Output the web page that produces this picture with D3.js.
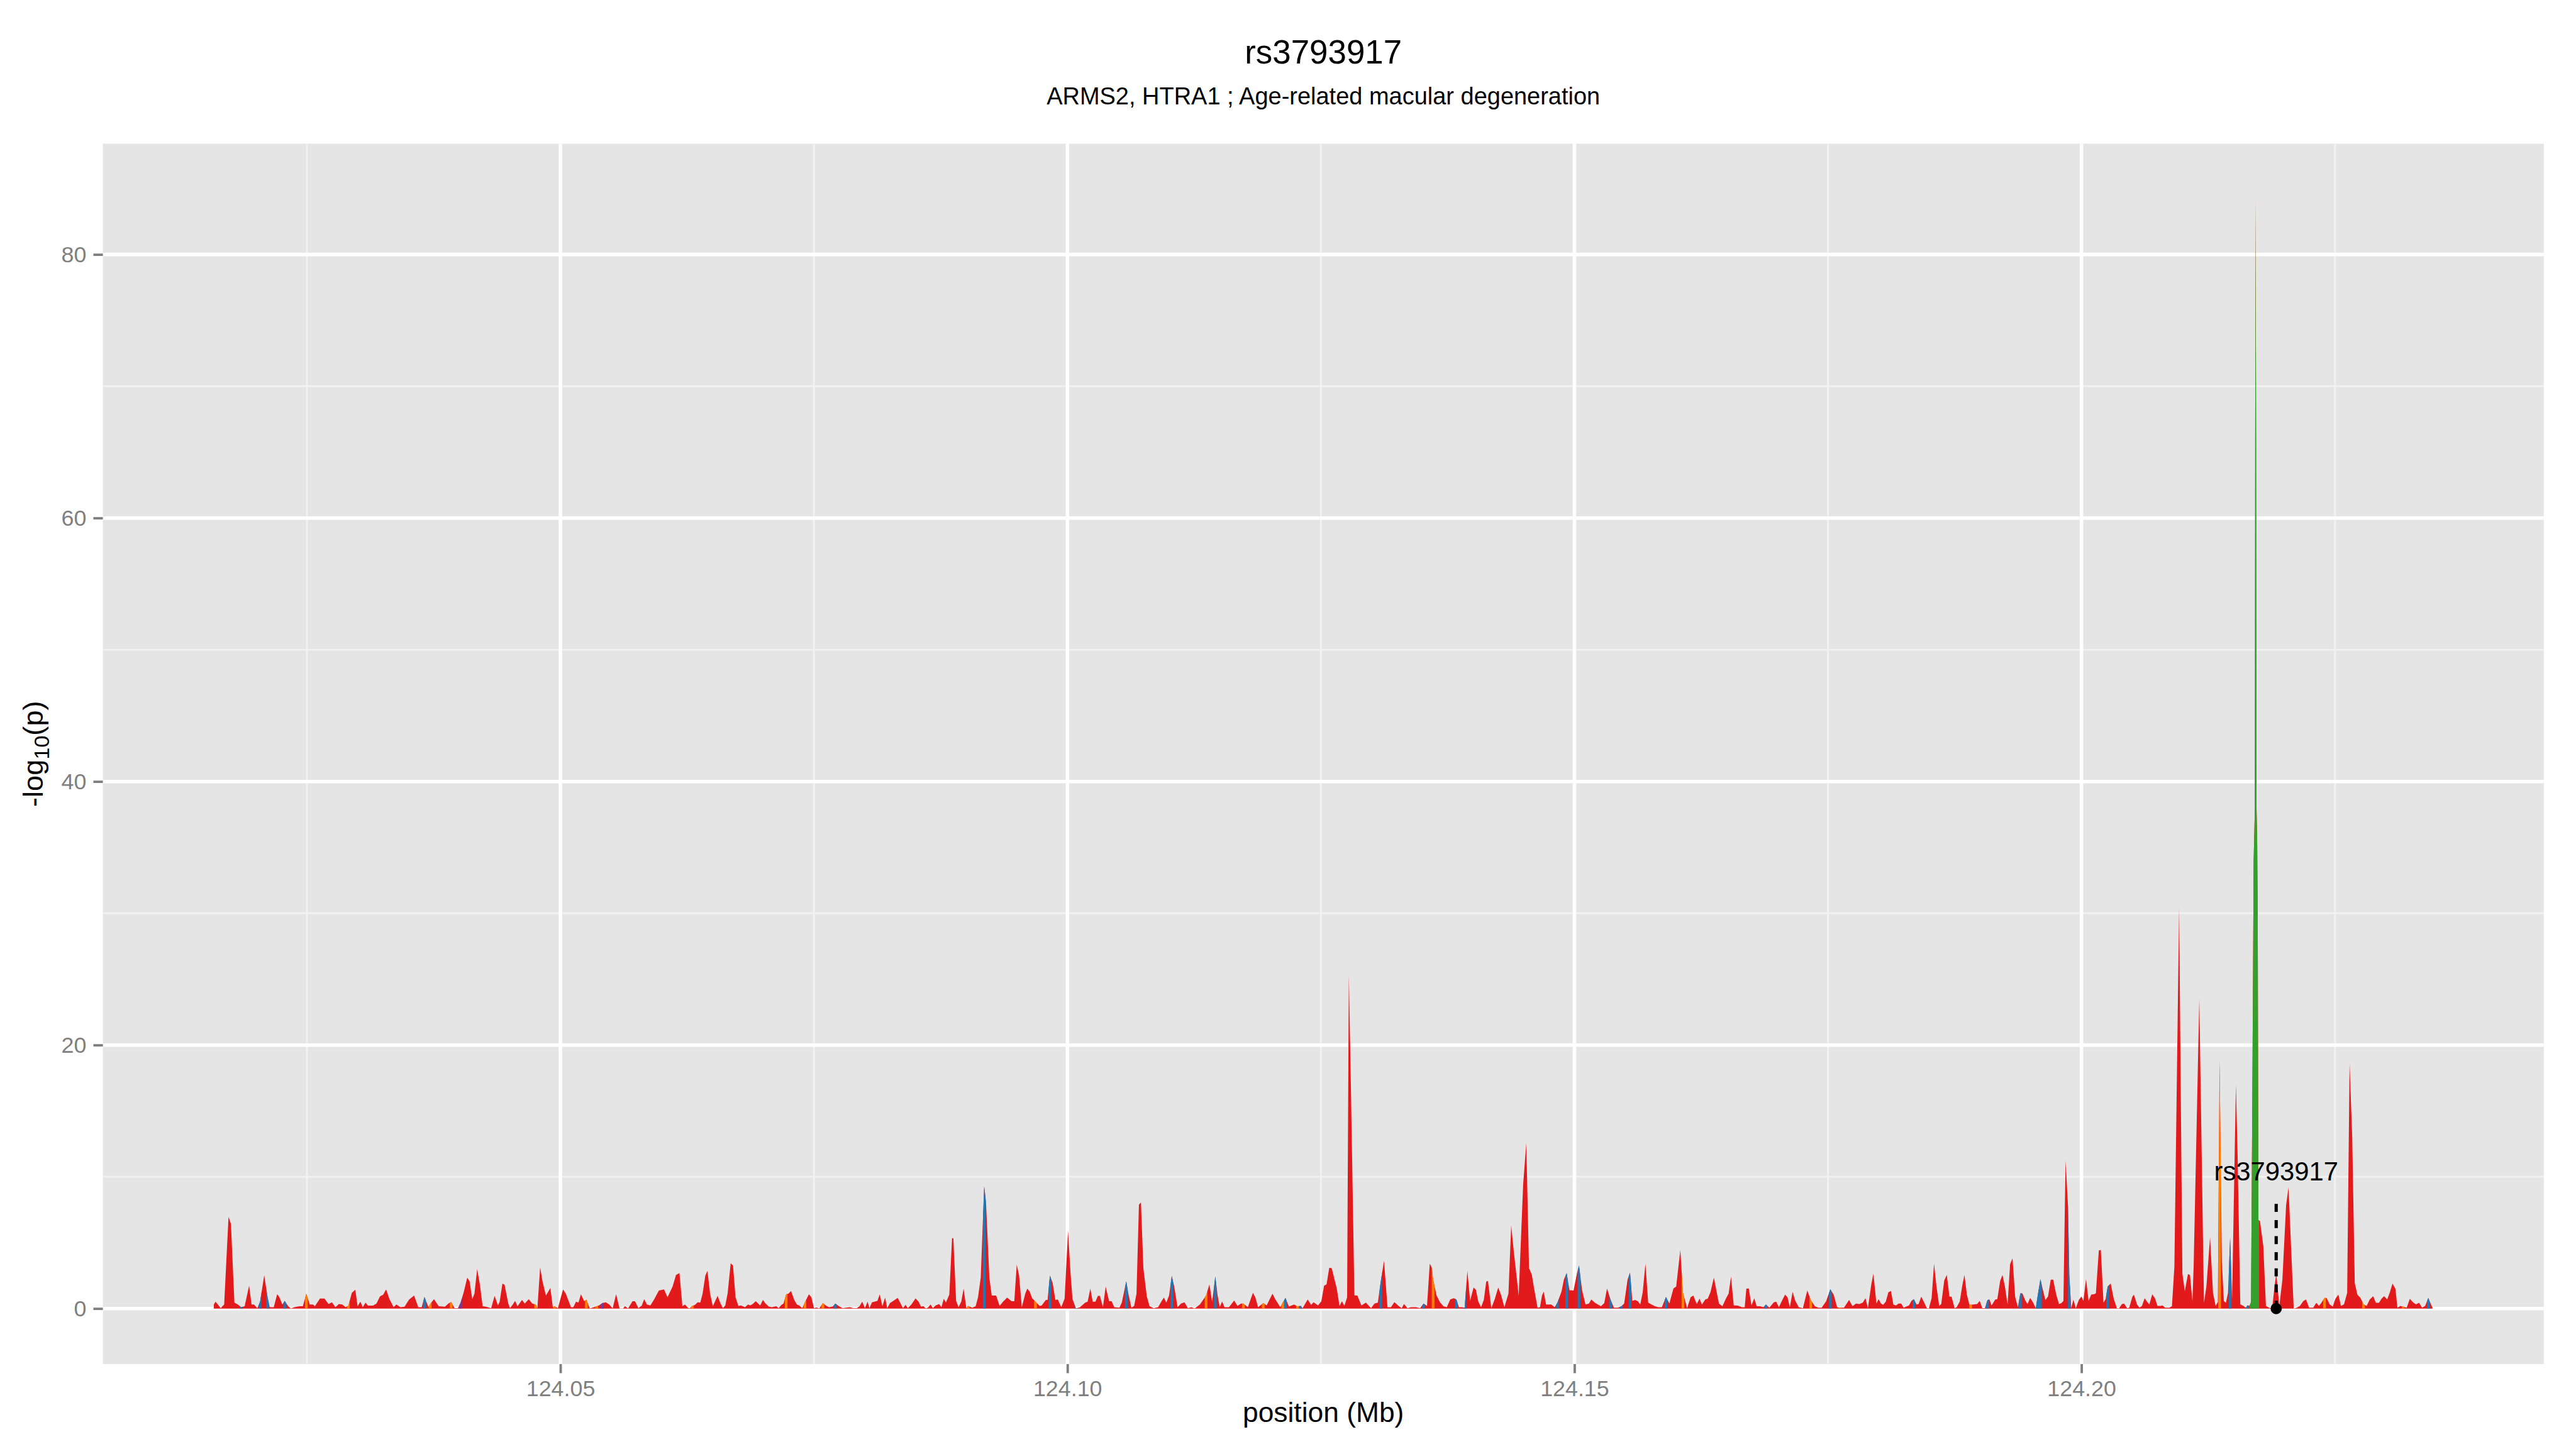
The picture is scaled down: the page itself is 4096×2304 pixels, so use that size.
<!DOCTYPE html>
<html>
<head>
<meta charset="utf-8">
<script src="https://cdn.jsdelivr.net/npm/d3@7"></script>
<style>
  body { margin: 0; background: #fff; }
  text { font-family: "Liberation Sans", Arial, Helvetica, sans-serif; }
</style>
</head>
<body>
<div id="chart"></div>
<script>
// ---- chart values ----
const titleText = "rs3793917";
const subtitleText = "ARMS2, HTRA1 ; Age-related macular degeneration";
const xTitle = "position (Mb)";

const regionStartMb = 124.0;   // snp positions below are kb past this point
const xTicks = [124.05, 124.10, 124.15, 124.20];
const yTicks = [0, 20, 40, 60, 80];

// LD bins, lowest first
const ldBins = ["0-0.2", "0.2-0.4", "0.4-0.6", "0.6-0.8", "0.8-1"];
const ldColours = ["#E31A1C", "#1F78B4", "#FF7F00", "#6A3D9A", "#33A02C"];

// [kb, -log10(p)] for every snp
const profile = [
  [15.82,0.31],[15.99,0.52],[16.50,0.04],[16.67,0.18],[16.84,0.31],[17.27,6.97],[17.51,6.42],[17.85,0.45],
  [18.19,0.31],[18.52,0.10],[18.86,0.18],[19.30,1.74],[19.54,0.31],[19.77,0.31],[20.11,0.04],[20.38,0.52],
  [20.79,2.53],[21.12,0.86],[21.33,0.11],[21.73,0.11],[22.07,1.10],[22.27,0.88],[22.58,0.31],[22.81,0.58],
  [23.15,0.18],[23.42,0.01],[23.76,0.11],[24.26,0.18],[24.60,0.18],[24.94,1.13],[25.28,0.31],[25.61,0.31],
  [25.78,0.18],[26.29,0.76],[26.73,0.76],[27.13,0.34],[27.47,0.48],[27.81,0.11],[28.15,0.34],[28.48,0.31],
  [28.82,0.11],[29.09,0.22],[29.43,1.19],[29.77,1.43],[30.00,0.18],[30.27,0.52],[30.51,0.11],[30.78,0.45],
  [31.02,0.22],[31.52,0.22],[31.86,0.38],[32.20,0.92],[32.53,1.06],[32.81,1.45],[33.14,0.72],[33.55,0.11],
  [33.82,0.31],[34.22,0.11],[34.63,0.14],[35.07,0.68],[35.57,0.99],[35.98,0.11],[36.32,0.11],[36.59,0.88],
  [36.99,0.11],[37.16,0.35],[37.53,0.72],[38.00,0.18],[38.61,0.14],[38.95,0.38],[39.22,0.50],[39.56,0.04],
  [39.89,0.04],[40.16,0.45],[40.47,1.26],[40.81,2.35],[41.04,2.08],[41.31,0.72],[41.52,1.13],[41.79,3.00],
  [42.06,1.81],[42.33,0.18],[42.66,0.14],[43.17,0.04],[43.51,0.96],[43.84,0.24],[44.01,0.52],[44.28,1.90],
  [44.49,1.81],[44.86,0.38],[45.03,0.04],[45.30,0.31],[45.53,0.58],[45.77,0.18],[46.21,0.65],[46.48,0.38],
  [46.88,0.72],[47.22,0.38],[47.56,0.31],[47.73,0.04],[48.00,3.14],[48.23,2.08],[48.57,0.99],[49.01,1.56],
  [49.25,0.11],[49.42,0.18],[49.75,0.04],[50.26,1.45],[50.53,1.13],[51.04,0.11],[51.27,0.11],[51.54,0.52],
  [51.78,0.45],[52.02,1.09],[52.35,0.56],[52.56,0.68],[52.89,0.01],[53.30,0.11],[53.57,0.18],[53.80,0.24],
  [54.14,0.41],[54.48,0.48],[54.82,0.31],[55.15,0.01],[55.49,1.10],[55.83,0.01],[56.17,0.01],[56.37,0.18],
  [56.67,0.01],[57.11,0.56],[57.35,0.56],[57.69,0.04],[58.02,0.22],[58.26,0.72],[58.53,0.31],[58.87,0.24],
  [59.21,0.65],[59.71,1.37],[60.22,1.45],[60.56,0.86],[61.06,1.67],[61.40,2.55],[61.74,2.69],[62.03,0.18],
  [62.29,0.31],[62.56,0.07],[62.73,0.01],[62.99,0.20],[63.26,0.27],[63.53,0.48],[63.79,0.45],[64.02,1.13],
  [64.29,2.51],[64.50,2.86],[64.76,1.13],[65.03,0.18],[65.50,0.96],[65.79,0.38],[66.03,0.04],[66.26,0.24],
  [66.49,1.15],[66.79,3.44],[67.02,3.27],[67.27,0.86],[67.55,0.20],[67.80,0.24],[68.20,0.11],[68.50,0.31],
  [68.73,0.24],[68.96,0.34],[69.26,0.56],[69.70,0.24],[69.97,0.65],[70.23,0.38],[70.55,0.15],[70.85,0.11],
  [71.29,0.18],[71.52,0.04],[71.79,0.27],[72.00,0.38],[72.26,1.09],[72.49,1.13],[72.74,1.33],[73.06,0.65],
  [73.32,0.31],[73.55,0.24],[73.85,0.04],[74.11,0.48],[74.50,1.09],[74.75,0.86],[75.00,0.04],[75.26,0.08],
  [75.53,0.01],[75.88,0.41],[76.23,0.20],[76.50,0.11],[76.85,0.15],[77.11,0.38],[77.47,0.18],[77.82,0.04],
  [78.53,0.10],[78.88,0.03],[79.23,0.03],[79.50,0.18],[79.76,0.52],[80.03,0.04],[80.29,0.52],[80.47,0.04],
  [80.73,0.48],[81.26,0.58],[81.49,1.09],[81.75,0.18],[82.02,0.83],[82.23,0.04],[82.50,0.42],[83.26,0.81],
  [83.78,0.04],[84.03,0.28],[84.26,0.04],[84.61,0.31],[85.02,0.77],[85.32,0.52],[85.55,0.15],[85.80,0.18],
  [86.03,0.01],[86.25,0.08],[86.50,0.31],[86.73,0.04],[87.00,0.24],[87.35,0.34],[87.57,0.11],[87.81,0.75],
  [88.01,0.45],[88.35,1.06],[88.62,5.34],[88.75,5.34],[89.02,0.58],[89.26,0.11],[89.53,0.52],[89.76,1.51],
  [90.03,0.04],[90.20,0.20],[90.61,0.07],[90.95,0.18],[91.18,0.86],[91.45,2.35],[91.79,9.27],[91.96,8.19],
  [92.30,2.35],[92.53,0.99],[92.97,0.99],[93.31,0.20],[93.65,0.52],[94.05,0.83],[94.49,0.56],[94.76,0.56],
  [95.00,3.34],[95.23,2.51],[95.50,0.11],[95.84,1.13],[96.04,1.51],[96.28,1.29],[96.52,0.79],[96.85,0.52],
  [97.26,0.20],[97.46,0.24],[97.87,0.65],[98.04,0.65],[98.27,2.51],[98.54,1.94],[98.81,0.65],[99.05,0.69],
  [99.39,0.11],[99.72,0.75],[100.06,5.91],[100.30,2.75],[100.50,0.72],[100.84,0.01],[101.24,0.11],[101.75,0.45],
  [101.99,0.52],[102.26,1.51],[102.49,0.52],[102.76,0.52],[103.00,0.96],[103.20,0.96],[103.50,0.11],[103.77,1.67],
  [104.11,0.56],[104.35,0.56],[104.62,0.11],[105.13,0.07],[105.36,0.45],[105.80,2.08],[106.04,0.99],[106.31,0.07],
  [106.58,0.20],[106.81,1.13],[107.05,7.88],[107.25,8.05],[107.49,3.04],[107.83,0.92],[108.10,0.18],[108.50,0.04],
  [108.94,0.11],[109.28,0.56],[109.51,0.83],[109.75,0.45],[110.02,0.99],[110.29,2.48],[110.53,1.67],[110.86,0.11],
  [111.20,0.38],[111.54,0.48],[111.88,0.04],[112.22,0.11],[112.55,0.01],[113.06,0.31],[113.67,0.99],[114.00,1.83],
  [114.27,0.52],[114.58,2.44],[114.81,0.99],[115.02,0.11],[115.25,0.54],[115.49,0.11],[115.93,0.11],[116.44,0.61],
  [116.77,0.20],[117.11,0.38],[117.35,0.38],[117.79,0.11],[118.29,1.19],[118.53,0.86],[118.80,0.11],[119.31,0.42],
  [119.64,0.24],[120.22,1.13],[120.49,0.72],[120.99,0.11],[121.23,0.45],[121.50,0.81],[121.84,0.15],[122.34,0.31],
  [122.68,0.18],[123.02,0.20],[123.19,0.04],[123.69,0.69],[124.03,0.28],[124.27,0.48],[124.71,0.24],[125.04,0.56],
  [125.31,1.74],[125.55,1.83],[125.82,3.10],[126.06,3.06],[126.56,1.53],[126.83,0.20],[127.07,0.56],[127.31,0.20],
  [127.58,0.86],[127.75,25.3],[127.95,17.0],[128.30,1.00],[128.59,0.99],[128.99,0.24],[129.43,0.45],[129.94,0.04],
  [130.28,0.38],[130.61,0.45],[130.89,2.01],[131.22,3.64],[131.56,0.11],[131.90,0.11],[132.24,0.49],[132.69,0.18],
  [132.96,0.04],[133.19,0.34],[133.53,0.04],[133.87,0.11],[134.38,0.11],[134.78,0.04],[135.12,0.38],[135.46,0.20],
  [135.73,3.41],[135.93,3.10],[136.06,2.21],[136.40,0.99],[136.74,0.48],[137.08,0.18],[137.41,0.11],[137.75,0.69],
  [138.09,0.79],[138.36,0.69],[138.60,0.11],[138.93,0.11],[139.17,0.07],[139.44,2.86],[139.71,0.58],[140.05,1.60],
  [140.28,1.43],[140.52,0.52],[140.79,0.11],[141.06,0.65],[141.30,2.05],[141.47,2.10],[141.80,0.04],[142.14,0.72],
  [142.48,1.60],[142.75,1.06],[143.09,0.11],[143.49,1.13],[143.76,6.31],[144.03,4.25],[144.50,0.99],[144.94,9.41],
  [145.25,12.56],[145.52,3.06],[145.79,2.59],[146.02,1.53],[146.36,0.07],[146.60,0.11],[146.80,0.99],[146.97,1.29],
  [147.20,0.31],[147.71,0.31],[148.05,0.11],[148.32,0.45],[148.72,1.29],[148.96,2.21],[149.23,2.69],[149.50,1.40],
  [149.91,1.37],[150.24,2.65],[150.45,3.27],[150.75,1.40],[151.09,0.31],[151.43,0.38],[151.66,0.69],[152.00,0.45],
  [152.61,0.18],[152.94,0.41],[153.21,1.53],[153.55,0.69],[153.89,0.07],[154.29,0.07],[154.63,0.18],[154.90,0.38],
  [155.24,2.21],[155.48,2.73],[155.71,0.58],[155.98,0.65],[156.25,0.56],[156.49,0.31],[156.73,1.24],[157.00,3.41],
  [157.27,0.45],[157.60,0.31],[157.94,0.18],[158.28,0.11],[158.62,0.11],[159.02,0.88],[159.36,0.38],[159.76,1.53],
  [160.03,1.67],[160.44,4.45],[160.70,1.20],[161.11,0.04],[161.45,0.86],[161.72,0.99],[162.06,0.34],[162.33,0.75],
  [162.57,0.31],[162.90,0.69],[163.14,0.75],[163.41,1.24],[163.75,2.35],[164.02,1.27],[164.25,0.38],[164.59,0.18],
  [164.93,0.75],[165.20,1.13],[165.44,2.42],[165.71,0.24],[166.11,0.22],[166.52,0.11],[166.79,0.11],[166.95,1.51],
  [167.19,1.53],[167.46,0.24],[167.73,0.79],[167.97,0.18],[168.31,0.18],[168.64,0.11],[168.88,0.31],[169.22,0.07],
  [169.66,0.48],[169.89,0.52],[170.16,0.11],[170.50,0.65],[170.77,1.06],[171.01,0.86],[171.24,0.11],[171.51,1.26],
  [171.78,0.58],[172.12,0.11],[172.53,0.04],[172.96,1.37],[173.30,0.65],[173.71,0.18],[174.05,0.07],[174.38,0.07],
  [174.82,0.56],[175.23,1.47],[175.56,1.06],[175.90,0.11],[176.17,0.07],[176.58,0.07],[177.08,0.65],[177.42,0.18],
  [177.76,0.38],[178.10,0.34],[178.43,0.45],[178.70,0.79],[178.94,0.04],[179.28,1.87],[179.48,2.65],[179.78,0.38],
  [179.99,0.72],[180.23,0.38],[180.44,0.28],[180.70,0.52],[180.96,1.24],[181.21,1.33],[181.45,0.31],[181.71,0.24],
  [181.96,0.38],[182.22,0.38],[182.46,0.07],[182.72,0.15],[182.99,0.24],[183.23,0.58],[183.47,0.72],[183.74,0.31],
  [183.94,0.34],[184.20,0.90],[184.49,0.45],[184.75,0.04],[184.95,0.01],[185.22,0.79],[185.46,3.41],[185.70,1.68],
  [185.97,0.20],[186.17,0.34],[186.47,2.15],[186.72,2.55],[186.98,0.90],[187.18,0.90],[187.49,0.04],[187.69,0.11],
  [187.99,0.52],[188.26,1.81],[188.46,2.55],[188.70,1.06],[188.94,0.31],[189.07,0.28],[189.31,0.31],[189.71,0.34],
  [189.96,0.58],[190.22,0.04],[190.48,0.04],[190.73,0.65],[190.93,0.69],[191.13,0.24],[191.50,0.69],[191.70,0.72],
  [191.98,2.10],[192.21,2.55],[192.45,1.68],[192.71,0.31],[192.96,3.37],[193.20,3.82],[193.46,0.88],[193.73,0.11],
  [193.97,1.15],[194.17,1.15],[194.48,0.58],[194.68,0.34],[194.94,0.81],[195.23,0.45],[195.49,0.04],[195.69,1.02],
  [195.95,2.24],[196.20,1.39],[196.44,0.65],[196.70,0.92],[196.97,2.19],[197.21,2.19],[197.51,1.06],[197.78,0.34],
  [198.02,0.42],[198.22,0.58],[198.43,11.24],[198.67,7.78],[198.80,2.50],[198.99,0.04],[199.20,0.68],[199.44,0.04],
  [199.74,0.65],[199.99,0.92],[200.19,0.58],[200.45,2.24],[200.70,0.58],[200.96,1.06],[201.26,1.10],[201.42,1.15],
  [201.71,4.41],[201.91,4.45],[202.17,0.45],[202.38,0.72],[202.58,1.67],[202.88,1.91],[203.19,0.72],[203.49,0.04],
  [203.69,0.01],[203.99,0.34],[204.20,0.38],[204.50,0.04],[204.71,0.07],[205.01,0.88],[205.17,1.06],[205.48,0.31],
  [205.72,0.07],[205.96,0.20],[206.23,0.79],[206.53,0.45],[206.69,0.31],[206.98,1.09],[207.24,0.79],[207.50,0.20],
  [207.79,0.20],[207.99,0.24],[208.25,0.07],[208.66,0.07],[208.92,0.18],[209.16,3.16],[209.63,30.4],[209.95,2.67],
  [210.19,1.31],[210.50,2.62],[210.70,2.54],[210.94,0.57],[211.06,3.16],[211.62,23.5],[212.08,0.44],[212.32,1.68],
  [212.68,5.43],[212.97,1.19],[213.23,0.20],[213.45,0.50],[213.62,18.8],[213.84,3.60],[214.04,0.57],[214.24,0.44],
  [214.45,1.19],[214.66,5.38],[214.85,0.69],[215.23,17.0],[215.40,11.5],[215.66,0.32],[215.97,0.20],[216.21,0.07],
  [216.37,0.25],[216.57,0.20],[216.72,0.50],[216.85,16.0],[216.98,34.0],[217.10,38.0],[217.13,66.0],[217.17,84.2],
  [217.22,66.0],[217.26,38.0],[217.32,36.0],[217.38,30.0],[217.45,6.70],[217.60,6.66],[217.93,4.76],[218.19,0.20],
  [218.50,0.07],[218.80,0.00],[219.04,1.68],[219.21,2.67],[219.51,0.20],[219.81,2.17],[220.18,7.85],[220.42,9.21],
  [220.73,3.60],[220.93,0.00],[221.23,0.07],[221.54,0.20],[221.88,0.57],[222.14,0.69],[222.45,0.07],[222.85,0.07],
  [223.16,0.44],[223.42,0.20],[223.66,0.44],[223.97,0.81],[224.17,0.81],[224.47,0.32],[224.78,0.15],[225.04,0.74],
  [225.33,1.06],[225.59,0.20],[225.89,0.32],[226.20,1.19],[226.44,18.6],[226.70,13.0],[226.95,1.93],[227.21,1.06],
  [227.51,0.81],[227.82,0.32],[228.12,0.20],[228.43,0.69],[228.77,0.94],[229.03,0.44],[229.34,0.44],[229.58,0.74],
  [229.84,0.94],[230.15,0.69],[230.39,1.19],[230.67,1.90],[230.96,1.50],[231.16,0.07],[231.46,0.20],[231.72,0.15],
  [232.07,0.07],[232.38,0.74],[232.68,0.49],[232.98,0.32],[233.29,0.44],[233.59,0.07],[233.89,0.20],[234.20,0.81],
  [234.40,0.44],[234.65,0.00]
];

// snps outside the lowest LD bin: [kb, bin index]
const ldSnps = [
  [18.52,1],[20.38,1],[21.12,1],[22.81,1],[36.59,1],[77.11,1],[91.79,1],[98.27,1],[100.84,1],[105.80,1],
  [110.29,1],[114.58,1],[121.50,1],[123.02,1],[130.89,1],[135.12,1],[138.36,1],[139.17,1],[148.32,1],
  [149.23,1],[150.45,1],[153.55,1],[154.63,1],[155.48,1],[159.02,1],[168.88,1],[175.23,1],[183.47,1],
  [190.73,1],[193.97,1],[195.69,1],[195.95,1],[198.80,1],[202.58,1],[214.66,1],[216.37,1],[234.20,1],
  [24.94,2],[29.09,2],[37.16,2],[39.22,2],[47.56,2],[49.42,2],[52.56,2],[53.57,2],[62.99,2],[72.26,2],
  [74.11,2],[75.88,2],[90.20,2],[96.85,2],[113.67,2],[117.35,2],[119.31,2],[121.23,2],[122.68,2],
  [136.06,2],[160.70,2],[173.30,2],[176.17,2],[189.07,2],[213.62,2],[223.97,2],[227.82,2],[231.72,2],
  [40.16,3],[54.14,3],
  [216.72,4],[216.85,4],[216.98,4],[217.10,4],[217.13,4],[217.17,4],[217.22,4],[217.26,4],[217.32,4],[217.38,4]
];

// the labelled snp
const leadSnp = "rs3793917";
const leadKb = 219.2;
const leadLabelP = 10.45;
const leadLineP = 8.4;

// ---- layout (reference pixel space, scaled down by the viewBox) ----
const W = 4800, H = 2700;
const panel = { left: 191.7, right: 4740, top: 267.7, bottom: 2541.7 };
const fontFam = '"Liberation Sans", Arial, Helvetica, sans-serif';

const svg = d3.select("#chart")
  .append("svg")
  .attr("width", 4096)
  .attr("height", 2304)
  .attr("viewBox", `0 0 ${W} ${H}`)
  .style("display", "block");

svg.append("rect").attr("width", W).attr("height", H).attr("fill", "#fff");

const toMb = kb => regionStartMb + kb / 1000;
const pts = profile.map(d => ({ mb: toMb(d[0]), p: d[1] }));

// ggplot style 5% expansion on both axes
const xExt = d3.extent(pts, d => d.mb);
const yExt = [0, d3.max(pts, d => d.p)];
const xPad = (xExt[1] - xExt[0]) * 0.05;
const yPad = (yExt[1] - yExt[0]) * 0.05;

const x = d3.scaleLinear()
  .domain([xExt[0] - xPad, xExt[1] + xPad])
  .range([panel.left, panel.right]);
const y = d3.scaleLinear()
  .domain([yExt[0] - yPad, yExt[1] + yPad])
  .range([panel.bottom, panel.top]);

// panel background
svg.append("rect")
  .attr("x", panel.left).attr("y", panel.top)
  .attr("width", panel.right - panel.left)
  .attr("height", panel.bottom - panel.top)
  .attr("fill", "#E5E5E5");

// grid lines
const grid = svg.append("g");
const xMinor = xTicks.map(t => t - 0.025).concat([xTicks[xTicks.length - 1] + 0.025])
  .filter(t => t > x.domain()[0] && t < x.domain()[1]);
const yMinor = yTicks.map(t => t + 10).filter(t => t < y.domain()[1]);

grid.selectAll(".xminor").data(xMinor).join("line")
  .attr("x1", d => x(d)).attr("x2", d => x(d))
  .attr("y1", panel.top).attr("y2", panel.bottom)
  .attr("stroke", "#F2F2F2").attr("stroke-width", 3.3);
grid.selectAll(".yminor").data(yMinor).join("line")
  .attr("y1", d => y(d)).attr("y2", d => y(d))
  .attr("x1", panel.left).attr("x2", panel.right)
  .attr("stroke", "#F2F2F2").attr("stroke-width", 3.3);
grid.selectAll(".xmajor").data(xTicks).join("line")
  .attr("x1", d => x(d)).attr("x2", d => x(d))
  .attr("y1", panel.top).attr("y2", panel.bottom)
  .attr("stroke", "#fff").attr("stroke-width", 6.5);
grid.selectAll(".ymajor").data(yTicks).join("line")
  .attr("y1", d => y(d)).attr("y2", d => y(d))
  .attr("x1", panel.left).attr("x2", panel.right)
  .attr("stroke", "#fff").attr("stroke-width", 6.5);

// the profile
const plot = svg.append("g");
const area = d3.area()
  .x(d => x(d.mb))
  .y0(y(0))
  .y1(d => y(d.p));

plot.append("path")
  .datum(pts)
  .attr("d", area)
  .attr("fill", ldColours[0]);

// higher LD snps: same profile, coloured in a thin strip round each snp
const defs = svg.append("defs");
const stripHalf = 2.5;
d3.range(1, ldColours.length).forEach(b => {
  const snps = ldSnps.filter(s => s[1] === b);
  if (!snps.length) return;
  const cp = defs.append("clipPath").attr("id", "ld" + b);
  cp.selectAll("rect").data(snps).join("rect")
    .attr("x", s => x(toMb(s[0])) - stripHalf)
    .attr("width", stripHalf * 2)
    .attr("y", panel.top)
    .attr("height", panel.bottom - panel.top);
  plot.append("path")
    .datum(pts)
    .attr("d", area)
    .attr("fill", ldColours[b])
    .attr("clip-path", `url(#ld${b})`);
});

// lead snp marker
const leadX = x(toMb(leadKb));
svg.append("line")
  .attr("x1", leadX).attr("x2", leadX)
  .attr("y1", y(0)).attr("y2", y(leadLineP))
  .attr("stroke", "#000").attr("stroke-width", 6)
  .attr("stroke-dasharray", "15,15");
svg.append("circle")
  .attr("cx", leadX).attr("cy", y(0)).attr("r", 10.5)
  .attr("fill", "#000");
svg.append("text")
  .attr("x", leadX).attr("y", y(leadLabelP))
  .attr("dy", "0.36em")
  .attr("text-anchor", "middle")
  .attr("font-size", 49)
  .attr("fill", "#000")
  .text(leadSnp);

// axes
const xAxis = d3.axisBottom(x)
  .tickValues(xTicks)
  .tickFormat(d3.format(".2f"))
  .tickSize(17)
  .tickPadding(13);
svg.append("g")
  .attr("transform", `translate(0,${panel.bottom})`)
  .call(xAxis)
  .attr("font-size", 42)
  .attr("font-family", fontFam)
  .call(g => g.select(".domain").remove())
  .call(g => g.selectAll("line").attr("stroke", "#7F7F7F").attr("stroke-width", 4.5))
  .call(g => g.selectAll("text").attr("fill", "#7F7F7F"));

const yAxis = d3.axisLeft(y)
  .tickValues(yTicks)
  .tickSize(17.7)
  .tickPadding(13);
svg.append("g")
  .attr("transform", `translate(${panel.left},0)`)
  .call(yAxis)
  .attr("font-size", 42)
  .attr("font-family", fontFam)
  .call(g => g.select(".domain").remove())
  .call(g => g.selectAll("line").attr("stroke", "#7F7F7F").attr("stroke-width", 4.5))
  .call(g => g.selectAll("text").attr("fill", "#7F7F7F"));

// titles
const midX = (panel.left + panel.right) / 2;
svg.append("text")
  .attr("x", midX).attr("y", 118)
  .attr("text-anchor", "middle")
  .attr("font-size", 62)
  .text(titleText);
svg.append("text")
  .attr("x", midX).attr("y", 195)
  .attr("text-anchor", "middle")
  .attr("font-size", 44.5)
  .text(subtitleText);

svg.append("text")
  .attr("x", midX).attr("y", 2650)
  .attr("text-anchor", "middle")
  .attr("font-size", 52)
  .text(xTitle);

const yTitle = svg.append("text")
  .attr("transform", `translate(80,${(panel.top + panel.bottom) / 2}) rotate(-90)`)
  .attr("text-anchor", "middle")
  .attr("font-size", 53);
yTitle.append("tspan").text("-log");
yTitle.append("tspan").attr("font-size", 40).attr("dy", 11).text("10");
yTitle.append("tspan").attr("dy", -11).text("(p)");
</script>
</body>
</html>
